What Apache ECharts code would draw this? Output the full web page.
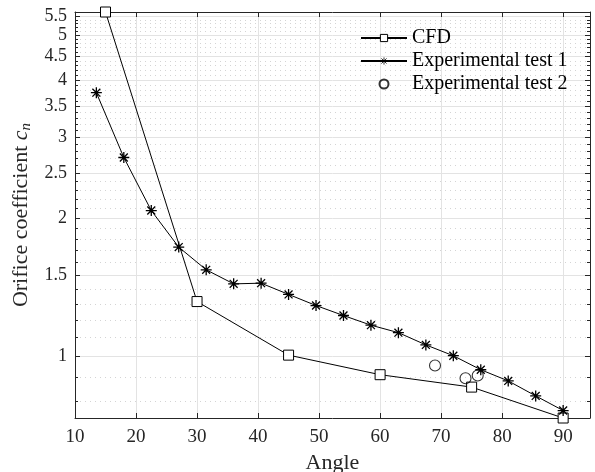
<!DOCTYPE html>
<html><head><meta charset="utf-8">
<script src="https://cdn.jsdelivr.net/npm/echarts@6/dist/echarts.min.js"></script>
<style>html,body{margin:0;padding:0;background:#fff}#c{width:595px;height:472px}</style>
</head><body><div id="c"></div>
<script>
var cfdX = [15, 30, 45, 60, 75, 90];
var cfdY = [5.62, 1.316, 1.006, 0.912, 0.857, 0.734];
var exp1X = [13.5, 18, 22.5, 27, 31.5, 36, 40.5, 45, 49.5, 54, 58.5, 63, 67.5, 72, 76.5, 81, 85.5, 90];
var exp1Y = [3.75, 2.71, 2.077, 1.729, 1.543, 1.438, 1.443, 1.364, 1.29, 1.227, 1.169, 1.126, 1.059, 1.003, 0.935, 0.884, 0.82, 0.762];
var exp2X = [69, 74, 76];
var exp2Y = [0.955, 0.896, 0.908];
var xTicks = [10, 20, 30, 40, 50, 60, 70, 80, 90];
var yTicks = [1, 1.5, 2, 2.5, 3, 3.5, 4, 4.5, 5, 5.5];
var yMinorTicks = [0.8, 0.9, 1.1, 1.2, 1.3, 1.4, 1.6, 1.7, 1.8, 1.9, 2.1, 2.2, 2.3, 2.4, 2.6, 2.7, 2.8, 2.9, 3.1, 3.2, 3.3, 3.4, 3.6, 3.7, 3.8, 3.9, 4.1, 4.2, 4.3, 4.4, 4.6, 4.7, 4.8, 4.9, 5.1, 5.2, 5.3, 5.4, 5.6];

function pairs(xs, ys) { return xs.map(function (x, i) { return [x, ys[i]]; }); }

var FONT = 'Liberation Serif';
var AX = '#262626';
var X_MIN = 10, X_MAX = 94.4, Y_MIN = 0.734, Y_MAX = 5.62;
var star = 'path://M0,-5L0,5M-5,0L5,0M-3.6,-3.6L3.6,3.6M-3.6,3.6L3.6,-3.6';

var chart = echarts.init(document.getElementById('c'), null, {renderer: 'canvas'});
chart.setOption({
  animation: false,
  backgroundColor: '#fff',
  textStyle: {fontFamily: FONT},
  grid: {left: 75, right: 5, top: 12, bottom: 54, containLabel: false, outerBoundsMode: 'none'},
  legend: {
    orient: 'vertical', left: 355, top: 23, itemWidth: 46, itemHeight: 9, itemGap: 3,
    textStyle: {fontFamily: FONT, fontSize: 20, color: '#000'},
    data: [
      {name: 'CFD', itemStyle: {borderWidth: 1}},
      {name: 'Experimental test 1', itemStyle: {borderWidth: 0.8}},
      {name: 'Experimental test 2'}
    ]
  },
  xAxis: [{
    type: 'value', position: 'bottom', min: X_MIN, max: X_MAX,
    name: 'Angle', nameLocation: 'middle', nameGap: 33,
    nameTextStyle: {fontFamily: FONT, fontSize: 22, color: AX},
    axisLine: {show: true, lineStyle: {color: AX, width: 1}},
    axisTick: {show: true, inside: true, length: 5, customValues: xTicks, lineStyle: {color: AX}},
    axisLabel: {customValues: xTicks, fontFamily: FONT, fontSize: 19, color: AX, margin: 10, hideOverlap: false},
    splitLine: {show: true, lineStyle: {color: '#e3e3e3', width: 1}}
  }, {
    type: 'value', position: 'top', min: X_MIN, max: X_MAX,
    axisLine: {show: true, lineStyle: {color: AX, width: 1}},
    axisTick: {show: true, inside: true, length: 5, customValues: xTicks, lineStyle: {color: AX}},
    axisLabel: {show: false}, splitLine: {show: false}
  }],
  yAxis: [{
    type: 'log', position: 'left', min: Y_MIN, max: Y_MAX,
    name: 'Orifice coefficient {i|c}{s|n}', nameLocation: 'middle', nameGap: 37,
    nameTextStyle: {fontFamily: FONT, fontSize: 22, color: AX,
      rich: {i: {fontFamily: FONT, fontSize: 22, fontStyle: 'italic', color: AX},
             s: {fontFamily: FONT, fontSize: 15, fontStyle: 'italic', color: AX, padding: [9, 0, 0, 0]}}},
    axisLine: {show: true, lineStyle: {color: AX, width: 1}},
    axisTick: {show: true, inside: true, length: 5, customValues: yTicks, lineStyle: {color: AX}},
    axisLabel: {customValues: yTicks, interval: 0, hideOverlap: false, fontFamily: FONT, fontSize: 18, color: AX, margin: 8,
      formatter: function (v) { return String(v); }},
    splitLine: {show: true, lineStyle: {color: '#e3e3e3', width: 1}}
  }, {
    type: 'log', position: 'right', min: Y_MIN, max: Y_MAX,
    axisLine: {show: true, lineStyle: {color: AX, width: 1}},
    axisTick: {show: true, inside: true, length: 5, customValues: yTicks, lineStyle: {color: AX}},
    axisLabel: {show: false}, splitLine: {show: false}
  }, {
    type: 'log', position: 'left', min: Y_MIN, max: Y_MAX,
    axisLine: {show: false},
    axisTick: {show: true, inside: true, length: 3, customValues: yMinorTicks, lineStyle: {color: AX}},
    axisLabel: {show: false},
    splitLine: {show: true, lineStyle: {color: '#d4d4d4', width: 1, type: [1, 4]}}
  }, {
    type: 'log', position: 'right', min: Y_MIN, max: Y_MAX,
    axisLine: {show: false},
    axisTick: {show: true, inside: true, length: 3, customValues: yMinorTicks, lineStyle: {color: AX}},
    axisLabel: {show: false}, splitLine: {show: false}
  }],
  series: [{
    name: 'CFD', type: 'line', data: pairs(cfdX, cfdY),
    symbol: 'rect', symbolSize: 10, showAllSymbol: true,
    lineStyle: {color: '#000', width: 1},
    itemStyle: {color: '#fff', borderColor: '#000', borderWidth: 1},
    z: 5
  }, {
    name: 'Experimental test 1', type: 'line', data: pairs(exp1X, exp1Y),
    symbol: star, symbolSize: 11, showAllSymbol: true,
    lineStyle: {color: '#000', width: 1},
    itemStyle: {color: '#000', borderColor: '#000', borderWidth: 1.3},
    z: 5
  }, {
    name: 'Experimental test 2', type: 'scatter', data: pairs(exp2X, exp2Y),
    symbol: 'circle', symbolSize: 11,
    itemStyle: {color: 'rgba(0,0,0,0)', borderColor: '#000', borderWidth: 1.1},
    z: 5
  }]
});
</script></body></html>
